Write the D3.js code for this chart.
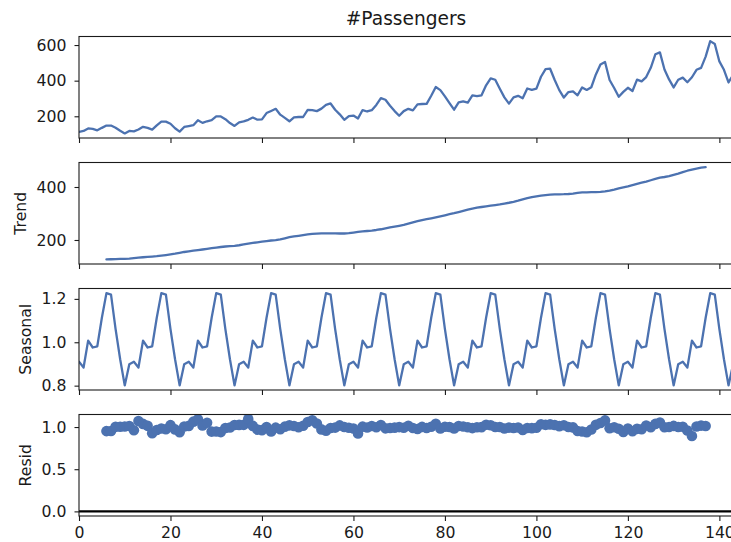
<!DOCTYPE html>
<html>
<head>
<meta charset="utf-8">
<script src="https://cdn.jsdelivr.net/npm/d3@7"></script>
<style>
  html, body { margin: 0; padding: 0; background: #fff; }
  svg { display: block; font-family: "DejaVu Sans", sans-serif; }
</style>
</head>
<body>
<svg id="chart" width="731" height="542"></svg>
<script>
// ---- Data (monthly index 0..143) ----
const passengers = [
  112,118,132,129,121,135,148,148,136,119,104,118,
  115,126,141,135,125,149,170,170,158,133,114,140,
  145,150,178,163,172,178,199,199,184,162,146,166,
  171,180,193,181,183,218,230,242,209,191,172,194,
  196,196,236,235,229,243,264,272,237,211,180,201,
  204,188,235,227,234,264,302,293,259,229,203,229,
  242,233,267,269,270,315,364,347,312,274,237,278,
  284,277,317,313,318,374,413,405,355,306,271,306,
  315,301,356,348,355,422,465,467,404,347,305,336,
  340,318,362,348,363,435,491,505,404,359,310,337,
  360,342,406,396,420,472,548,559,463,407,362,405,
  417,391,419,461,472,535,622,606,508,461,390,432
];

const trend = [
  null,null,null,null,null,null,
  126.79,127.25,127.96,128.58,129.00,129.75,
  131.25,133.08,134.92,136.42,137.42,138.75,140.92,143.17,145.71,148.42,151.54,154.71,
  157.13,159.54,161.83,164.13,166.67,169.08,171.25,173.58,175.46,176.83,178.04,180.17,
  183.13,186.21,189.04,191.29,193.58,195.83,198.04,199.75,202.21,206.25,210.42,213.38,
  215.83,218.50,220.92,222.92,224.08,224.71,225.33,225.33,224.96,224.58,224.46,225.54,
  228.00,230.46,232.25,233.92,235.63,237.75,240.50,243.96,247.17,250.25,253.50,257.13,
  261.83,266.67,271.13,275.21,278.50,281.96,285.75,289.33,293.25,297.17,301.00,305.46,
  309.96,314.42,318.63,321.75,324.50,327.08,329.54,331.83,334.46,337.54,340.54,344.08,
  348.25,353.00,357.63,361.38,364.50,367.17,369.46,371.21,372.17,372.42,372.75,373.63,
  375.25,377.92,379.50,380.00,380.71,380.96,381.83,383.67,386.50,390.33,394.71,398.63,
  402.54,407.17,411.88,416.33,420.50,425.50,430.71,435.13,437.71,440.96,445.83,450.63,
  456.33,461.38,465.21,469.33,472.75,475.04,
  null,null,null,null,null,null
];

const seasonal = [
  0.9102,0.8836,1.0074,0.9759,0.9814,1.1128,1.2266,1.2199,1.0605,0.9218,0.8012,0.8988,
  0.9102,0.8836,1.0074,0.9759,0.9814,1.1128,1.2266,1.2199,1.0605,0.9218,0.8012,0.8988,
  0.9102,0.8836,1.0074,0.9759,0.9814,1.1128,1.2266,1.2199,1.0605,0.9218,0.8012,0.8988,
  0.9102,0.8836,1.0074,0.9759,0.9814,1.1128,1.2266,1.2199,1.0605,0.9218,0.8012,0.8988,
  0.9102,0.8836,1.0074,0.9759,0.9814,1.1128,1.2266,1.2199,1.0605,0.9218,0.8012,0.8988,
  0.9102,0.8836,1.0074,0.9759,0.9814,1.1128,1.2266,1.2199,1.0605,0.9218,0.8012,0.8988,
  0.9102,0.8836,1.0074,0.9759,0.9814,1.1128,1.2266,1.2199,1.0605,0.9218,0.8012,0.8988,
  0.9102,0.8836,1.0074,0.9759,0.9814,1.1128,1.2266,1.2199,1.0605,0.9218,0.8012,0.8988,
  0.9102,0.8836,1.0074,0.9759,0.9814,1.1128,1.2266,1.2199,1.0605,0.9218,0.8012,0.8988,
  0.9102,0.8836,1.0074,0.9759,0.9814,1.1128,1.2266,1.2199,1.0605,0.9218,0.8012,0.8988,
  0.9102,0.8836,1.0074,0.9759,0.9814,1.1128,1.2266,1.2199,1.0605,0.9218,0.8012,0.8988,
  0.9102,0.8836,1.0074,0.9759,0.9814,1.1128,1.2266,1.2199,1.0605,0.9218,0.8012,0.8988
];

const resid = [
  null,null,null,null,null,null,
  0.9516,0.9534,1.0022,1.0040,1.0063,1.0118,
  0.9627,1.0715,1.0374,1.0140,0.9269,0.9650,0.9835,0.9734,1.0225,0.9721,0.9390,1.0068,
  1.0138,1.0641,1.0918,1.0177,1.0515,0.9461,0.9474,0.9398,0.9888,0.9939,1.0235,1.0251,
  1.0259,1.0940,1.0134,0.9696,0.9633,1.0004,0.9468,0.9931,0.9746,1.0046,1.0202,1.0115,
  0.9977,1.0152,1.0604,1.0802,1.0413,0.9718,0.9552,0.9895,0.9934,1.0192,1.0009,0.9915,
  0.9830,0.9232,1.0044,0.9944,1.0119,0.9978,1.0237,0.9845,0.9881,0.9927,0.9995,0.9909,
  1.0154,0.9888,0.9775,1.0016,0.9879,1.0039,1.0385,0.9831,1.0032,1.0003,0.9827,1.0126,
  1.0066,0.9970,0.9876,0.9968,0.9986,1.0276,1.0217,1.0005,1.0008,0.9835,0.9933,0.9895,
  0.9938,0.9650,0.9881,0.9868,0.9924,1.0328,1.0261,1.0313,1.0236,1.0108,1.0213,1.0005,
  0.9955,0.9523,0.9469,0.9384,0.9715,1.0261,1.0484,1.0790,0.9857,0.9978,0.9803,0.9406,
  0.9826,0.9506,0.9785,0.9747,1.0177,0.9968,1.0373,1.0531,0.9974,1.0013,1.0134,0.9999,
  1.0040,0.9591,0.8941,1.0065,1.0173,1.0121,
  null,null,null,null,null,null
];

const xTicks = [0, 20, 40, 60, 80, 100, 120, 140];
const panelTitles = ["#Passengers", "Trend", "Seasonal", "Resid"];
const yTicks = [[200, 400, 600], [200, 400], [0.8, 1.0, 1.2], [0.0, 0.5, 1.0]];
const yFormats = ["d", "d", ".1f", ".1f"];

// ---- Layout ----
const W = 731, H = 542;
const left = 79, right = 733.1;
const tops = [36.5, 162.5, 288.5, 414.5];
const ph = 101.5;
const blue = "#4C72B0";
const ink = "#1a1a1a";
const fs = 15.7;

const svg = d3.select("#chart");
const x = d3.scaleLinear().domain([0, 143]).range([left, right]);
const idx = d3.range(passengers.length);

function padDomain(vals) {
  const [a, b] = d3.extent(vals.filter(v => v != null));
  const m = (b - a) * 0.05;
  return [a - m, b + m];
}

const series = [passengers, trend, seasonal, resid];

series.forEach((data, p) => {
  const top = tops[p], bottom = top + ph;
  const domainVals = p === 3 ? data.concat([0]) : data;
  const y = d3.scaleLinear().domain(padDomain(domainVals)).range([bottom, top]);
  const g = svg.append("g");

  const clipId = "clip" + p;
  svg.append("clipPath").attr("id", clipId)
    .append("rect").attr("x", left).attr("y", top).attr("width", right - left).attr("height", ph);

  const plot = g.append("g").attr("clip-path", `url(#${clipId})`);

  if (p < 3) {
    const line = d3.line()
      .defined(i => data[i] != null)
      .x(i => x(i)).y(i => y(data[i]));
    plot.append("path").attr("d", line(idx))
      .attr("fill", "none").attr("stroke", blue)
      .attr("stroke-width", 2.3).attr("stroke-linejoin", "round").attr("stroke-linecap", "round");
  } else {
    plot.append("line")
      .attr("x1", x(0)).attr("x2", x(143))
      .attr("y1", y(0)).attr("y2", y(0))
      .attr("stroke", "#000").attr("stroke-width", 2.3);
    plot.selectAll("circle").data(idx.filter(i => data[i] != null)).join("circle")
      .attr("cx", i => x(i)).attr("cy", i => y(data[i]))
      .attr("r", 5.3).attr("fill", blue);
  }

  // y axis
  const yAxis = d3.axisLeft(y).tickValues(yTicks[p]).tickSize(4.5).tickPadding(8)
    .tickFormat(d3.format(yFormats[p]));
  const ya = g.append("g").attr("transform", `translate(${left},0)`).call(yAxis);
  ya.select(".domain").remove();
  ya.selectAll("line").attr("stroke", ink).attr("stroke-width", 1.1);
  ya.selectAll("text").attr("fill", ink).style("font-size", fs + "px")
    .style("font-family", "DejaVu Sans");

  // x axis (ticks only except bottom)
  const xAxis = d3.axisBottom(x).tickValues(xTicks).tickSize(5).tickPadding(5.5)
    .tickFormat(p === 3 ? d3.format("d") : () => "");
  const xa = g.append("g").attr("transform", `translate(0,${bottom})`).call(xAxis);
  xa.select(".domain").remove();
  xa.selectAll("line").attr("stroke", ink).attr("stroke-width", 1.1);
  xa.selectAll("text").attr("fill", ink).style("font-size", fs + "px")
    .style("font-family", "DejaVu Sans");

  // frame
  g.append("rect").attr("x", left).attr("y", top).attr("width", right - left).attr("height", ph)
    .attr("fill", "none").attr("stroke", ink).attr("stroke-width", 1.1);

  if (p === 0) {
    svg.append("text").attr("x", (left + right) / 2).attr("y", 25.3)
      .attr("text-anchor", "middle").attr("fill", ink)
      .style("font-size", "18.6px").text(panelTitles[p]);
  } else {
    let minX = Infinity;
    ya.selectAll("text").each(function() {
      const b = this.getBBox();
      minX = Math.min(minX, left + b.x);
    });
    const cx = minX - 11;
    const cy = (top + bottom) / 2;
    svg.append("text")
      .attr("transform", `translate(${cx},${cy}) rotate(-90)`)
      .attr("text-anchor", "middle").attr("fill", ink)
      .style("font-size", fs + "px").text(panelTitles[p]);
  }
});
</script>
</body>
</html>
